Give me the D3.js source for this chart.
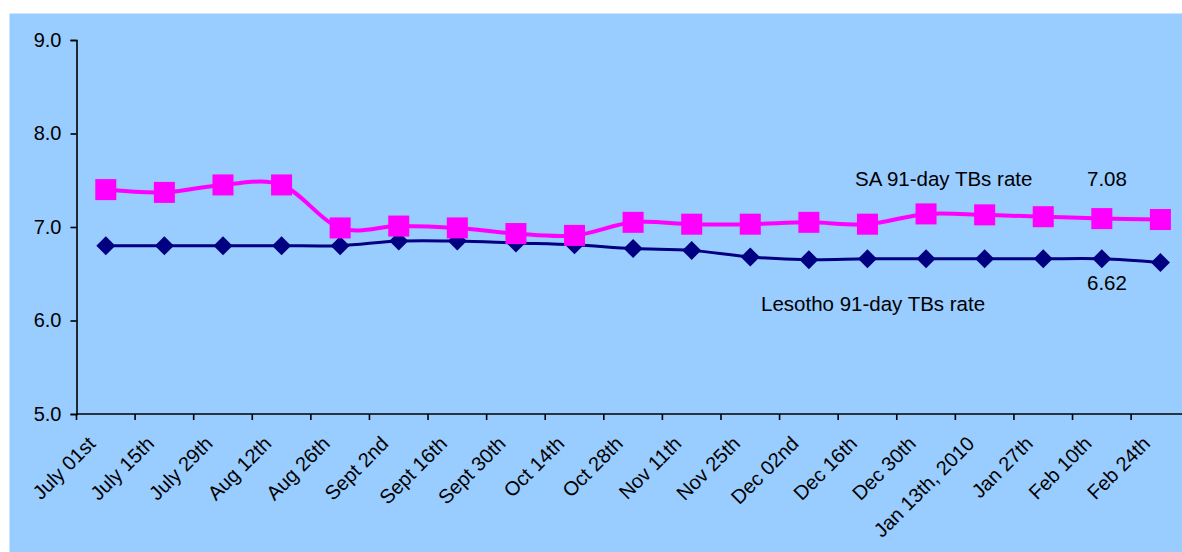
<!DOCTYPE html>
<html>
<head>
<meta charset="utf-8">
<script src="https://cdn.jsdelivr.net/npm/d3@7"></script>
<style>
  html, body { margin: 0; padding: 0; background: #ffffff; overflow: hidden; }
  svg { display: block; }
  text { font-family: "Liberation Sans", Arial, sans-serif; fill: #000; }
</style>
</head>
<body>
<svg id="chart" width="1182" height="552"></svg>
<script>
// Fortnightly auction dates
const categories = [
  "July 01st", "July 15th", "July 29th", "Aug 12th", "Aug 26th",
  "Sept 2nd", "Sept 16th", "Sept 30th", "Oct 14th", "Oct 28th",
  "Nov 11th", "Nov 25th", "Dec 02nd", "Dec 16th", "Dec 30th",
  "Jan 13th, 2010", "Jan 27th", "Feb 10th", "Feb 24th"
];

// South African 91-day Treasury bill rate (%)
const saRate = [
  7.40, 7.37, 7.45, 7.45, 6.99, 7.01, 6.99, 6.93, 6.91, 7.05,
  7.03, 7.03, 7.05, 7.03, 7.14, 7.13, 7.11, 7.09, 7.08
];

// Lesotho 91-day Treasury bill rate (%)
const lesothoRate = [
  6.80, 6.80, 6.80, 6.80, 6.80, 6.85, 6.85, 6.83, 6.81, 6.77,
  6.75, 6.68, 6.65, 6.66, 6.66, 6.66, 6.66, 6.66, 6.62
];

const yTicks = [5.0, 6.0, 7.0, 8.0, 9.0];

const svg = d3.select("#chart");

// Chart panel (runs off the right edge)
svg.append("rect")
  .attr("x", 9.5).attr("y", 13.5)
  .attr("width", 1200).attr("height", 540)
  .attr("fill", "#99CCFF");

const plot = { left: 76.5, top: 40, bottom: 414, step: 58.59 };
const plotRight = plot.left + plot.step * categories.length;

const x = d3.scaleBand()
  .domain(categories)
  .range([plot.left, plotRight])
  .paddingInner(0).paddingOuter(0);

const y = d3.scaleLinear()
  .domain([5, 9])
  .range([plot.bottom, plot.top]);

const cx = d => x(d) + x.bandwidth() / 2;

// Y axis
const yAxis = svg.append("g")
  .attr("transform", `translate(${plot.left},0)`)
  .call(d3.axisLeft(y).tickValues(yTicks).tickFormat(d3.format(".1f")).tickSize(6).tickPadding(9));
yAxis.select(".domain").attr("stroke", "#000").attr("stroke-width", 1.6);
yAxis.selectAll(".tick line").attr("stroke", "#000").attr("stroke-width", 1.6);
yAxis.selectAll(".tick text")
  .attr("font-size", 20).attr("font-family", "Liberation Sans, Arial, sans-serif").attr("fill", "#000");

// X axis with ticks between categories
const xAxisG = svg.append("g");
xAxisG.append("line")
  .attr("x1", plot.left).attr("x2", plotRight)
  .attr("y1", plot.bottom).attr("y2", plot.bottom)
  .attr("stroke", "#000").attr("stroke-width", 1.6);
xAxisG.selectAll("line.tick")
  .data(categories)
  .join("line")
  .attr("class", "tick")
  .attr("x1", d => x(d)).attr("x2", d => x(d))
  .attr("y1", plot.bottom).attr("y2", plot.bottom + 6)
  .attr("stroke", "#000").attr("stroke-width", 1.6);

svg.append("g").selectAll("text")
  .data(categories)
  .join("text")
  .attr("transform", d => `translate(${cx(d) - 9},${plot.bottom + 31}) rotate(-45)`)
  .attr("text-anchor", "end")
  .attr("font-size", 20)
  .text(d => d);

// Smoothed series lines
const line = d3.line()
  .x((d, i) => cx(categories[i]))
  .y(d => y(d))
  .curve(d3.curveCardinal);

const series = svg.append("g");

series.append("path")
  .datum(lesothoRate)
  .attr("d", line)
  .attr("fill", "none")
  .attr("stroke", "#000080")
  .attr("stroke-width", 3);

series.append("path")
  .datum(saRate)
  .attr("d", line)
  .attr("fill", "none")
  .attr("stroke", "#FF00FF")
  .attr("stroke-width", 4);

// Diamond markers
const dr = 9.5;
series.selectAll("path.diamond")
  .data(lesothoRate)
  .join("path")
  .attr("class", "diamond")
  .attr("transform", (d, i) => `translate(${cx(categories[i])},${y(d)})`)
  .attr("d", `M0,${-dr}L${dr},0L0,${dr}L${-dr},0Z`)
  .attr("fill", "#000080");

// Square markers
const sq = 21;
series.selectAll("rect.square")
  .data(saRate)
  .join("rect")
  .attr("class", "square")
  .attr("x", (d, i) => cx(categories[i]) - sq / 2)
  .attr("y", d => y(d) - sq / 2)
  .attr("width", sq).attr("height", sq)
  .attr("fill", "#FF00FF");

// Series annotations
const notes = svg.append("g").attr("font-size", 20.5);
notes.append("text").attr("x", 855).attr("y", 186).text("SA 91-day TBs rate");
notes.append("text").attr("x", 1087).attr("y", 186).text(saRate[saRate.length - 1].toFixed(2));
notes.append("text").attr("x", 761).attr("y", 311).text("Lesotho 91-day TBs rate");
notes.append("text").attr("x", 1087).attr("y", 290).text(lesothoRate[lesothoRate.length - 1].toFixed(2));
</script>
</body>
</html>
